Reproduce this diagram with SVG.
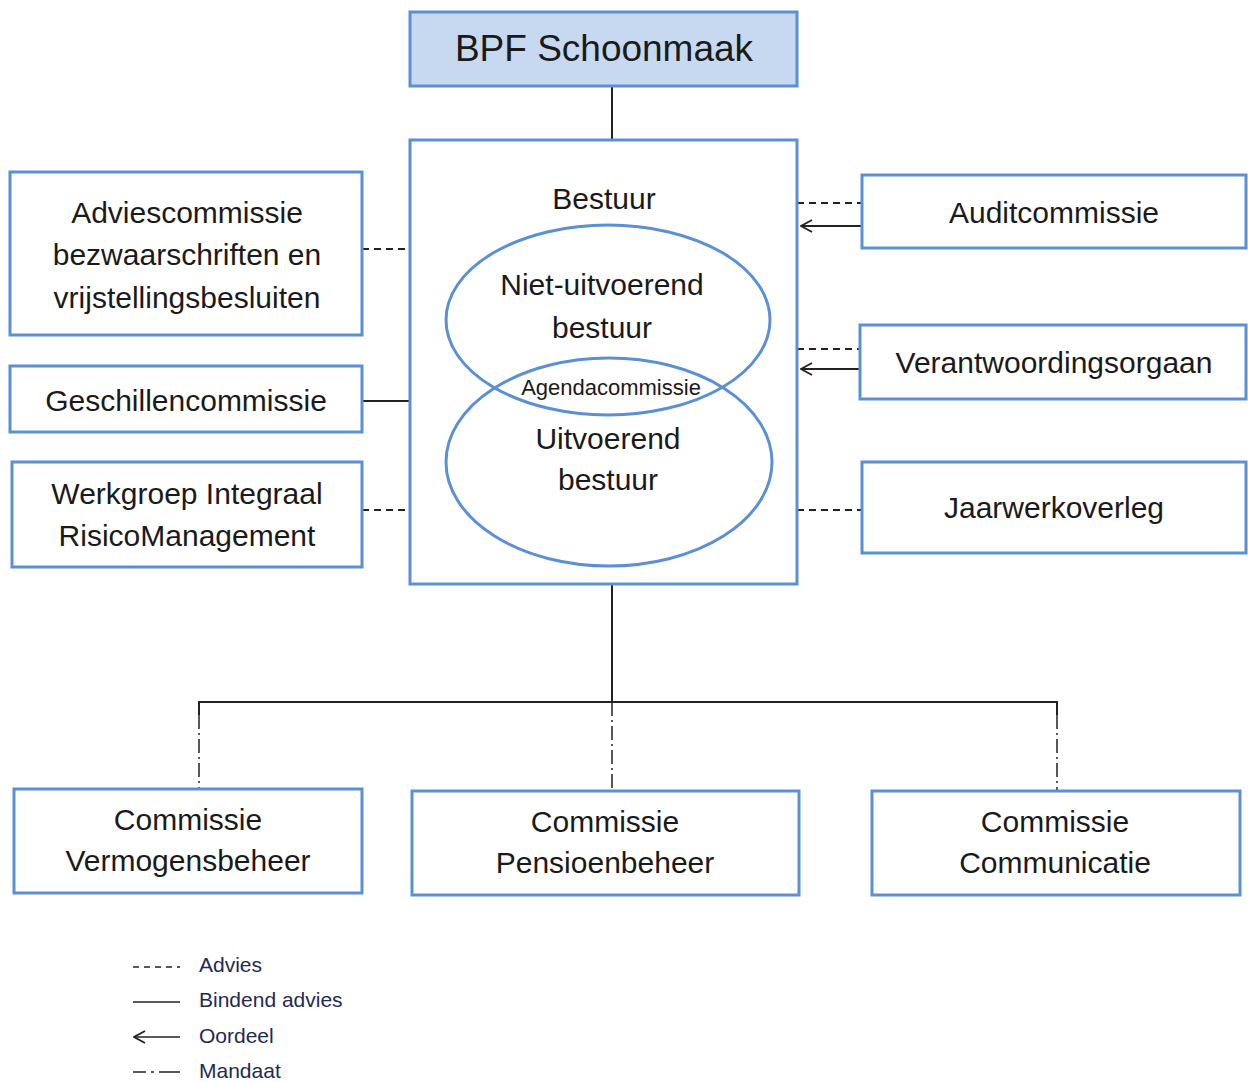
<svg xmlns="http://www.w3.org/2000/svg" width="1248" height="1082" viewBox="0 0 1248 1082">
<defs>
<style>
.box{fill:#fff;stroke:#5b8fd6;stroke-width:3}
.ell{fill:none;stroke:#5b8fd6;stroke-width:3}
.t{font-family:"Liberation Sans",Arial,sans-serif;font-size:30px;fill:#1a1a1a;text-anchor:middle}
.lg{font-family:"Liberation Sans",Arial,sans-serif;font-size:21px;fill:#1f2a55}
.solid{stroke:#222;stroke-width:2;fill:none}
.dash{stroke:#222;stroke-width:2;fill:none;stroke-dasharray:7 5}
.dd{stroke:#222;stroke-width:1.5;fill:none;stroke-dasharray:14 4 2 4}
</style>
<marker id="arr" viewBox="0 0 14 14" refX="13" refY="7" markerWidth="14" markerHeight="14" markerUnits="userSpaceOnUse" orient="auto">
<path d="M2 1 L13 7 L2 13" fill="none" stroke="#222" stroke-width="1.8"/>
</marker>
</defs>
<rect width="1248" height="1082" fill="#fff"/>
<g id="connectors">
<line class="solid" x1="612" y1="86" x2="612" y2="140"/>
<line class="dash" x1="362" y1="249" x2="410" y2="249"/>
<line class="solid" x1="362" y1="401" x2="410" y2="401"/>
<line class="dash" x1="362" y1="510" x2="410" y2="510"/>
<line class="dash" x1="797" y1="203" x2="862" y2="203"/>
<line class="solid" x1="862" y1="226" x2="801" y2="226" marker-end="url(#arr)"/>
<line class="dash" x1="797" y1="349" x2="860" y2="349"/>
<line class="solid" x1="860" y1="369" x2="801" y2="369" marker-end="url(#arr)"/>
<line class="dash" x1="797" y1="510" x2="862" y2="510"/>
<line class="solid" x1="612" y1="584" x2="612" y2="702"/>
<polyline class="solid" points="199,715 199,702 1057,702 1057,715"/>
<line class="dd" x1="199" y1="715" x2="199" y2="789"/>
<line class="dd" x1="612" y1="702" x2="612" y2="791"/>
<line class="dd" x1="1057" y1="715" x2="1057" y2="791"/>
</g>
<g id="bpf">
<rect x="410" y="12" width="387" height="74" fill="#c6d9f1" stroke="#5b8fd6" stroke-width="3"/>
<text class="t" x="604" y="61" style="font-size:37px">BPF Schoonmaak</text>
</g>
<g id="bestuur">
<rect class="box" x="410" y="140" width="387" height="444"/>
<text class="t" x="604" y="209">Bestuur</text>
</g>
<g id="niet-uitvoerend">
<ellipse class="ell" cx="608" cy="320" rx="162" ry="95"/>
<text class="t" x="602" y="295">Niet-uitvoerend</text>
<text class="t" x="602" y="338">bestuur</text>
</g>
<g id="uitvoerend">
<ellipse class="ell" cx="609" cy="462" rx="163" ry="104"/>
<text class="t" x="608" y="449">Uitvoerend</text>
<text class="t" x="608" y="490">bestuur</text>
</g>
<g id="agendacommissie">
<text class="t" x="611" y="395" style="font-size:22px">Agendacommissie</text>
</g>
<g id="adviescommissie">
<rect class="box" x="10" y="172" width="352" height="163"/>
<text class="t" x="187" y="223">Adviescommissie</text>
<text class="t" x="187" y="265">bezwaarschriften en</text>
<text class="t" x="187" y="308">vrijstellingsbesluiten</text>
</g>
<g id="geschillencommissie">
<rect class="box" x="10" y="366" width="352" height="66"/>
<text class="t" x="186" y="411">Geschillencommissie</text>
</g>
<g id="werkgroep">
<rect class="box" x="12" y="462" width="350" height="105"/>
<text class="t" x="187" y="504">Werkgroep Integraal</text>
<text class="t" x="187" y="546">RisicoManagement</text>
</g>
<g id="auditcommissie">
<rect class="box" x="862" y="175" width="384" height="73"/>
<text class="t" x="1054" y="223">Auditcommissie</text>
</g>
<g id="verantwoordingsorgaan">
<rect class="box" x="860" y="325" width="386" height="74"/>
<text class="t" x="1054" y="373">Verantwoordingsorgaan</text>
</g>
<g id="jaarwerkoverleg">
<rect class="box" x="862" y="462" width="384" height="91"/>
<text class="t" x="1054" y="518">Jaarwerkoverleg</text>
</g>
<g id="vermogensbeheer">
<rect class="box" x="14" y="789" width="348" height="104"/>
<text class="t" x="188" y="830">Commissie</text>
<text class="t" x="188" y="871">Vermogensbeheer</text>
</g>
<g id="pensioenbeheer">
<rect class="box" x="412" y="791" width="387" height="104"/>
<text class="t" x="605" y="832">Commissie</text>
<text class="t" x="605" y="873">Pensioenbeheer</text>
</g>
<g id="communicatie">
<rect class="box" x="872" y="791" width="368" height="104"/>
<text class="t" x="1055" y="832">Commissie</text>
<text class="t" x="1055" y="873">Communicatie</text>
</g>
<g id="legend">
<line class="dash" x1="133" y1="967" x2="180" y2="967" style="stroke-dasharray:6 5;stroke-width:1.5"/>
<line class="solid" x1="133" y1="1002" x2="180" y2="1002" style="stroke-width:1.5"/>
<line class="solid" x1="180" y1="1037" x2="134" y2="1037" style="stroke-width:1.5" marker-end="url(#arr)"/>
<path class="solid" d="M133 1072 H146 M151 1072 H154 M159 1072 H180" style="stroke-width:1.5"/>
<text class="lg" x="199" y="972">Advies</text>
<text class="lg" x="199" y="1007">Bindend advies</text>
<text class="lg" x="199" y="1043">Oordeel</text>
<text class="lg" x="199" y="1078">Mandaat</text>
</g>
</svg>
